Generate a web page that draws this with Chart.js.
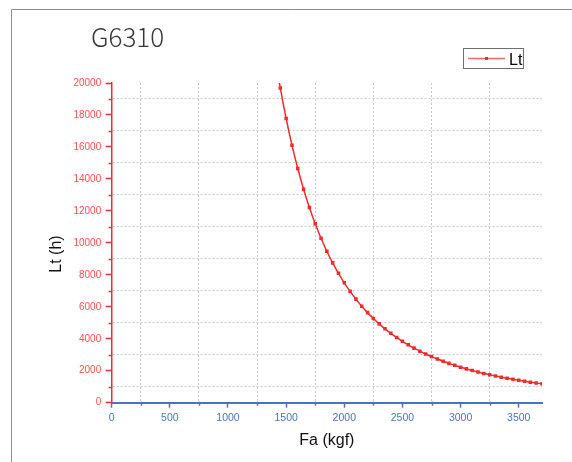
<!DOCTYPE html>
<html>
<head>
<meta charset="utf-8">
<title>G6310</title>
<script src="https://cdn.jsdelivr.net/npm/chart.js@4"></script>
<style>
  body { margin: 0; background: #fff; }
  canvas { display: block; }
</style>
</head>
<body>
<canvas id="lifeChart" width="572" height="462"></canvas>
<script>
const chartTitle = "G6310";
const seriesLabel = "Lt";
const xTitle = "Fa (kgf)";
const yTitle = "Lt (h)";

// axial load (kgf) and rated life (h)
const loadKgf = [1400, 1450, 1500, 1550, 1600, 1650, 1700, 1750, 1800, 1850,
  1900, 1950, 2000, 2050, 2100, 2150, 2200, 2250, 2300, 2350,
  2400, 2450, 2500, 2550, 2600, 2650, 2700, 2750, 2800, 2850,
  2900, 2950, 3000, 3050, 3100, 3150, 3200, 3250, 3300, 3350,
  3400, 3450, 3500, 3550, 3600, 3650, 3700];
const lifeHours = [21866, 19681, 17778, 16112, 14648, 13357, 12212, 11195, 10288, 9476,
  8748, 8092, 7500, 6965, 6479, 6037, 5635, 5267, 4931, 4623,
  4340, 4080, 3840, 3619, 3414, 3224, 3048, 2885, 2733, 2592,
  2460, 2337, 2222, 2115, 2014, 1920, 1831, 1748, 1670, 1596,
  1527, 1461, 1399, 1341, 1286, 1234, 1185];

// all tick positions; the labelled ones are major, the rest are minor and carry the grid
const xTickValues = [0, 250, 500, 750, 1000, 1250, 1500, 1750, 2000, 2250, 2500, 2750, 3000, 3250, 3500];
const xLabelValues = [0, 500, 1000, 1500, 2000, 2500, 3000, 3500];
const yTickValues = [0, 1000, 2000, 3000, 4000, 5000, 6000, 7000, 8000, 9000, 10000,
  11000, 12000, 13000, 14000, 15000, 16000, 17000, 18000, 19000, 20000];
const yLabelValues = [0, 2000, 4000, 6000, 8000, 10000, 12000, 14000, 16000, 18000, 20000];

const RED = "#f22a2a";
const RED_TEXT = "#ff4f4f";
const BLUE = "#4f72bd";
const GRID = "#c6c6c6";
const FONT = "'Liberation Sans', Arial, sans-serif";

const isMajor = (ctx, list) => ctx.tick && list.includes(ctx.tick.value);

// frame, title, y title, legend box and the short minor ticks
const extras = {
  id: "extras",
  afterDraw(chart) {
    const { ctx, chartArea, scales: { x, y } } = chart;
    ctx.save();

    ctx.strokeStyle = "#8c8c8c";
    ctx.lineWidth = 1;
    ctx.beginPath();
    ctx.moveTo(11.5, chart.height);
    ctx.lineTo(11.5, 9.5);
    ctx.lineTo(chart.width, 9.5);
    ctx.stroke();

    ctx.fillStyle = "#383838";
    ctx.font = "300 26px 'Noto Sans CJK SC', 'Noto Sans', sans-serif";
    ctx.textBaseline = "alphabetic";
    ctx.fillText(chartTitle, 91, 46.5);

    // y title sits a little below the middle of the axis
    ctx.save();
    ctx.translate(57, 254);
    ctx.rotate(-Math.PI / 2);
    ctx.fillStyle = "#111";
    ctx.font = "16px " + FONT;
    ctx.textAlign = "center";
    ctx.textBaseline = "middle";
    ctx.fillText(yTitle, 0, 0);
    ctx.restore();

    // minor ticks
    ctx.lineWidth = 1.5;
    ctx.strokeStyle = RED;
    y.ticks.forEach(t => {
      if (yLabelValues.includes(t.value)) return;
      const py = Math.round(y.getPixelForValue(t.value)) + 0.5;
      ctx.beginPath();
      ctx.moveTo(chartArea.left - 3, py);
      ctx.lineTo(chartArea.left, py);
      ctx.stroke();
    });
    ctx.strokeStyle = BLUE;
    x.ticks.forEach(t => {
      if (xLabelValues.includes(t.value)) return;
      const px = Math.round(x.getPixelForValue(t.value)) + 0.5;
      ctx.beginPath();
      ctx.moveTo(px, chartArea.bottom - 1);
      ctx.lineTo(px, chartArea.bottom + 3);
      ctx.stroke();
    });

    // legend
    const ds = chart.data.datasets[0];
    ctx.fillStyle = "#fff";
    ctx.fillRect(463.5, 48.5, 60, 20);
    ctx.strokeStyle = "#6e6e6e";
    ctx.lineWidth = 1;
    ctx.strokeRect(463.5, 48.5, 60, 20);
    ctx.strokeStyle = "#f46a6a";
    ctx.lineWidth = 1.5;
    ctx.beginPath();
    ctx.moveTo(468, 58.5);
    ctx.lineTo(505, 58.5);
    ctx.stroke();
    ctx.fillStyle = ds.pointBackgroundColor;
    ctx.fillRect(485, 57, 3, 3);
    ctx.fillStyle = "#000";
    ctx.font = "16px " + FONT;
    ctx.textAlign = "left";
    ctx.textBaseline = "alphabetic";
    ctx.fillText(ds.label, 509, 65);

    ctx.restore();
  }
};

new Chart(document.getElementById("lifeChart"), {
  type: "line",
  data: {
    datasets: [{
      label: seriesLabel,
      data: loadKgf.map((f, i) => ({ x: f, y: lifeHours[i] })),
      borderColor: RED,
      borderWidth: 1.5,
      pointStyle: "rect",
      pointRadius: 2.5,
      pointBackgroundColor: RED,
      pointBorderWidth: 0,
      tension: 0.3
    }]
  },
  options: {
    responsive: false,
    animation: false,
    devicePixelRatio: 1,
    layout: { padding: { left: 0, top: 83, right: 30, bottom: 0 } },
    plugins: {
      legend: { display: false },
      tooltip: { enabled: false }
    },
    scales: {
      x: {
        type: "linear",
        min: 0,
        max: 3700,
        afterFit: s => { s.height = 59.3; },
        afterBuildTicks: s => { s.ticks = xTickValues.map(v => ({ value: v })); },
        ticks: {
          autoSkip: false,
          maxRotation: 0,
          padding: 4,
          color: BLUE,
          font: { family: FONT, size: 10.5 },
          callback: v => xLabelValues.includes(v) ? String(v) : ""
        },
        grid: {
          color: c => isMajor(c, xLabelValues) ? "transparent" : GRID,
          tickColor: c => isMajor(c, xLabelValues) ? BLUE : "transparent",
          tickLength: 5,
          tickWidth: 1.5
        },
        border: {
          color: BLUE,
          width: 2,
          dash: c => c.type === "tick" ? [2, 2] : []
        },
        title: {
          display: true,
          text: xTitle,
          color: "#111",
          font: { family: FONT, size: 16 },
          padding: { top: 0, bottom: 12 }
        }
      },
      y: {
        type: "linear",
        min: 0,
        max: 20000,
        afterFit: s => { s.width = 111.7; },
        afterBuildTicks: s => { s.ticks = yTickValues.map(v => ({ value: v })); },
        ticks: {
          autoSkip: false,
          padding: 4.5,
          color: RED_TEXT,
          font: { family: FONT, size: 10 },
          callback: v => yLabelValues.includes(v) ? String(v) : ""
        },
        grid: {
          color: c => isMajor(c, yLabelValues) ? "transparent" : GRID,
          tickColor: c => isMajor(c, yLabelValues) ? RED : "transparent",
          tickLength: 6,
          tickWidth: 1.5
        },
        border: {
          color: RED,
          width: 1.5,
          dash: c => c.type === "tick" ? [2, 2] : []
        },
        title: { display: false }
      }
    }
  },
  plugins: [extras]
});
</script>
</body>
</html>
